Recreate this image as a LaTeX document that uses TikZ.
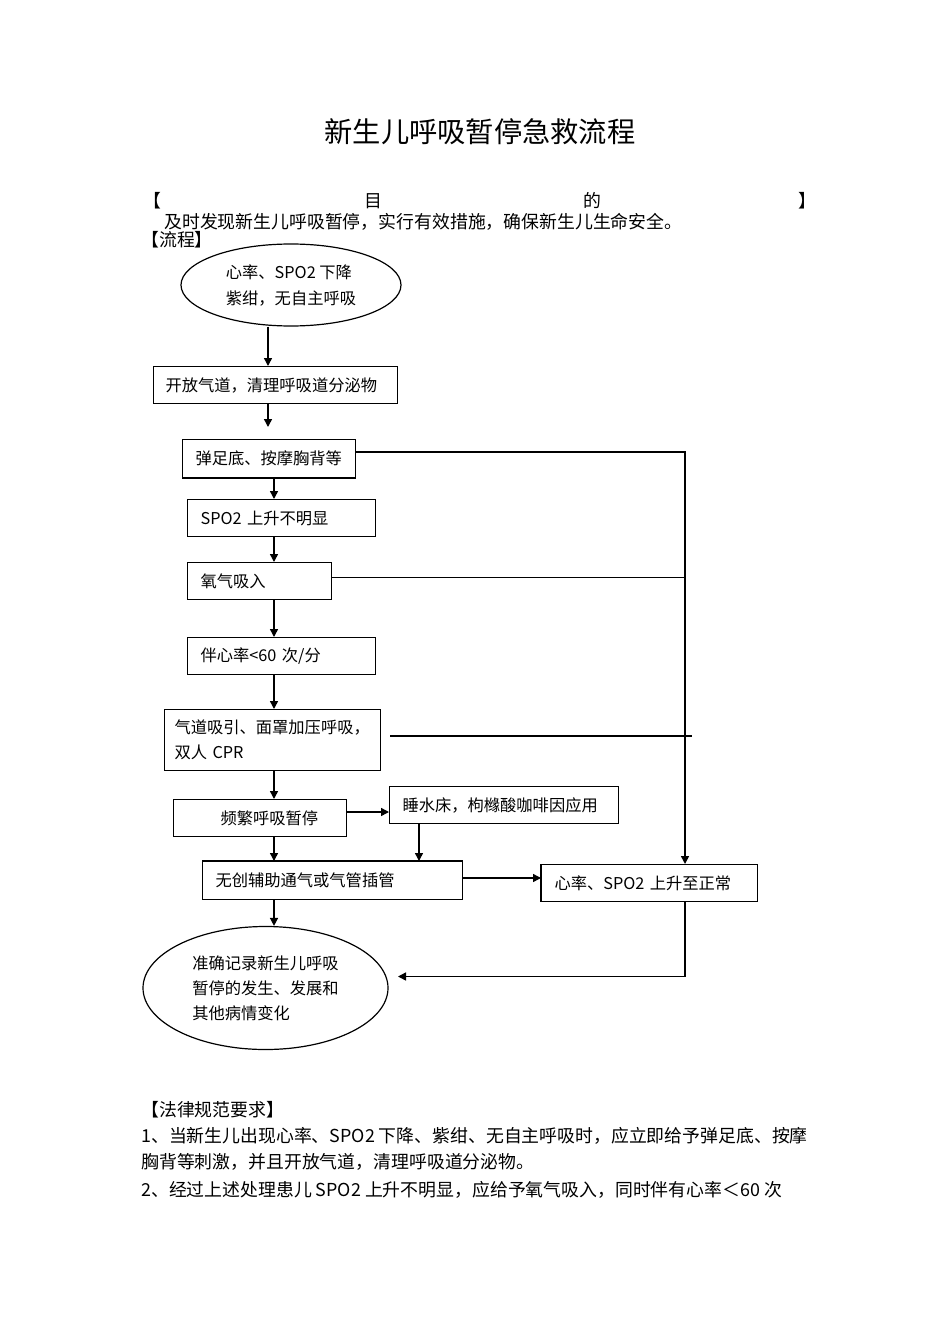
\documentclass[tikz,border=0pt]{standalone}
\usepackage{fontspec}
\setmainfont{Noto Sans CJK SC}
\usetikzlibrary{arrows.meta,shapes.geometric}
\begin{document}
\begin{tikzpicture}[x=0.75pt,y=-0.75pt,
  bx/.style={draw=black, line width=0.9pt, anchor=north west, inner ysep=0pt, align=left,
             font=\fontsize{12.2}{18.75}\selectfont},
  el/.style={draw=black, ellipse, line width=0.9pt, inner sep=0pt, align=left},
  arr/.style={draw=black, line width=1.1pt, -{Triangle[length=6pt,width=6pt]}},
  ln/.style={draw=black, line width=0.9pt},
  thinln/.style={draw=black, line width=0.7pt},
  thickln/.style={draw=black, line width=2pt},
  edgeln/.style={draw=black, line width=1.8pt},
  bodytxt/.style={inner sep=0pt, font=\fontsize{13.4}{16}\selectfont},
  titletxt/.style={inner sep=0pt, font=\fontsize{21.2}{24}\selectfont}]
\fill[white] (0,0) rectangle (950,1344);
\useasboundingbox (0,0) rectangle (950,1344);

% texts
\node[titletxt] (title) at (480,131.7) {新生儿呼吸暂停急救流程};
\node[bodytxt, anchor=west] (lb) at (143,201) {【};
\node[bodytxt] (mu) at (373,201) {目};
\node[bodytxt] (de) at (592,201) {的};
\node[bodytxt, anchor=east] (rb) at (817,201) {】};
\node[bodytxt, anchor=west] (goal) at (164,222) {及时发现新生儿呼吸暂停，实行有效措施，确保新生儿生命安全。};
\node[bodytxt, anchor=west] (flow) at (141,240) {【流程】};
\node[bodytxt, anchor=west] (law) at (141,1110) {【法律规范要求】};
\node[bodytxt, anchor=west] (l1) at (141,1136) {1、当新生儿出现心率、SPO2 下降、紫绀、无自主呼吸时，应立即给予弹足底、按摩};
\node[bodytxt, anchor=west] (l2) at (141,1162) {胸背等刺激，并且开放气道，清理呼吸道分泌物。};
\node[bodytxt, anchor=west] (l3) at (141,1190) {2、经过上述处理患儿 SPO2 上升不明显，应给予氧气吸入，同时伴有心率＜60 次};

% flow nodes
\node[el, minimum width=165pt, minimum height=61.5pt, font=\fontsize{12.2}{19.5}\selectfont] (e1) at (291,285) {心率、SPO2 下降\\紫绀，无自主呼吸};
\node[bx, text width=165pt, inner xsep=9pt, minimum height=27.75pt] (b2) at (153,366) {开放气道，清理呼吸道分泌物};
\node[bx, text width=110.25pt, inner xsep=9.75pt, minimum height=28.5pt] (b3) at (182,439) {弹足底、按摩胸背等};
\node[bx, text width=121.5pt, inner xsep=9.75pt, minimum height=27.75pt] (b4) at (187,499) {SPO2 上升不明显};
\node[bx, text width=88.5pt, inner xsep=9.75pt, minimum height=27.75pt] (b5) at (187,562) {氧气吸入};
\node[bx, text width=121.5pt, inner xsep=9.75pt, minimum height=27.75pt] (b6) at (187,637) {伴心率<60 次/分};
\node[bx, text width=147pt, inner xsep=7.5pt, minimum height=45.75pt] (b7) at (164,709) {气道吸引、面罩加压呼吸，\\双人 CPR};
\node[bx, text width=110.25pt, inner xsep=9.75pt, minimum height=27.75pt] (b8) at (173,799) {\hspace*{25.5pt}频繁呼吸暂停};
\node[bx, text width=152.25pt, inner xsep=9.75pt, minimum height=27.75pt] (b9) at (389,786) {睡水床，枸橼酸咖啡因应用};
\node[bx, text width=175.5pt, inner xsep=9.75pt, minimum height=28.5pt] (b10) at (202,861) {无创辅助通气或气管插管};
\node[bx, text width=142.5pt, inner xsep=9.75pt, minimum height=27.75pt] (b11) at (541,864) {心率、SPO2 上升至正常};
\node[el, minimum width=183.75pt, minimum height=92.25pt, font=\fontsize{12.2}{18.75}\selectfont] (e2) at (265.5,988) {准确记录新生儿呼吸\\暂停的发生、发展和\\其他病情变化};

% helper coordinates
\coordinate (c268) at (268,0);
\coordinate (c274) at (274,0);
\coordinate (c419) at (419,0);
\coordinate (c685) at (685,0);
\coordinate (t3) at (268,427);
\coordinate (r452) at (0,452);
\coordinate (r577) at (0,577);
\coordinate (r812) at (0,812);
\coordinate (r878) at (0,878);
\coordinate (k1) at (390,736);
\coordinate (k2) at (692,736);
\coordinate (tip) at (398,976.5);

% heavier edges
\draw[edgeln] (b3.south west) -- (b3.south east);
\draw[edgeln] (b10.north west) -- (b10.north east);
\draw[edgeln] (b11.north west) -- (b11.south west);

% connectors
\draw[arr] (e1.south -| c268) -- (b2.north -| c268);
\draw[arr] (b2.south -| c268) -- (t3);
\draw[arr] (b3.south -| c274) -- (b4.north -| c274);
\draw[arr] (b4.south -| c274) -- (b5.north -| c274);
\draw[arr] (b5.south -| c274) -- (b6.north -| c274);
\draw[arr] (b6.south -| c274) -- (b7.north -| c274);
\draw[arr] (b7.south -| c274) -- (b8.north -| c274);
\draw[arr] (b8.south -| c274) -- (b10.north -| c274);
\draw[arr] (b10.south -| c274) -- (e2.north -| c274);
\draw[arr] (b8.east |- r812) -- (b9.west |- r812);
\draw[arr] (b9.south -| c419) -- (b10.north -| c419);
\draw[arr] (b10.east |- r878) -- (b11.west |- r878);
\draw[arr] (b3.east |- r452) -| (b11.north -| c685);
\draw[thinln] (b5.east |- r577) -- (c685 |- r577);
\draw[thickln] (k1) -- (k2);
\draw[arr] (b11.south -| c685) |- (tip);
\end{tikzpicture}
\end{document}
